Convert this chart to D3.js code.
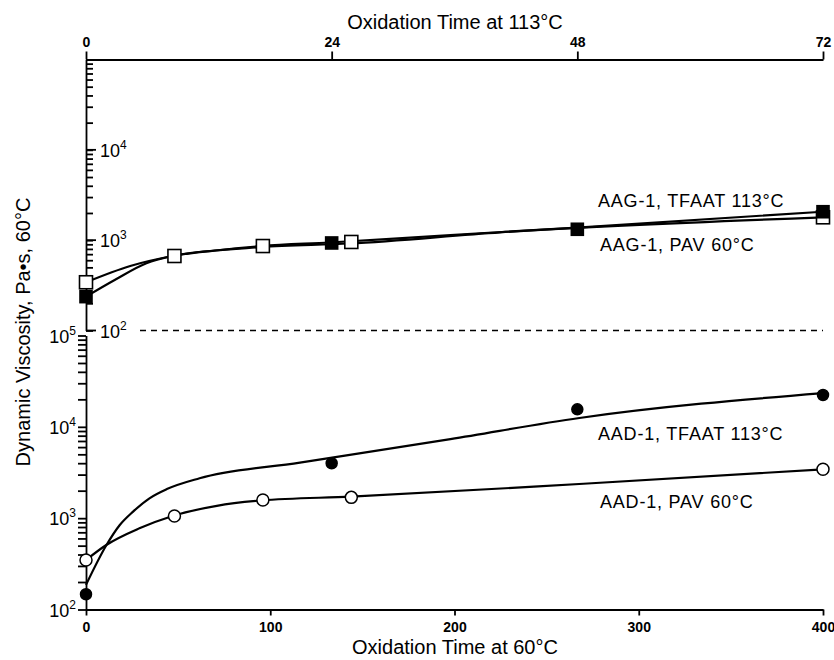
<!DOCTYPE html>
<html lang="en">
<head>
<meta charset="UTF-8">
<title>Dynamic Viscosity vs Oxidation Time</title>
<script src="https://d3js.org/d3.v7.min.js"></script>
<style>
    body { margin: 0; background: #ffffff; }
    svg { display: block; font-family: "Liberation Sans", Arial, sans-serif; }
    .axis path, .axis line { stroke: #000; stroke-width: 1.8; }
    .axis text { font-size: 14px; font-weight: bold; fill: #000; font-family: "Liberation Sans", Arial, sans-serif; }
    .fit { fill: none; stroke: #000; stroke-width: 2.2; }
    .title { font-size: 20px; fill: #000; }
    .series-label { font-size: 18px; letter-spacing: 0.8px; fill: #000; }
    .pow { font-size: 18px; fill: #000; }
</style>
</head>
<body>
<svg width="834" height="660"></svg>
<script>
// ---- data ----
const topTicks = [0, 24, 48, 72];            // oxidation hours at 113C
const bottomTicks = [0, 100, 200, 300, 400]; // oxidation hours at 60C
const upperPowers = [2, 3, 4];
const lowerPowers = [2, 3, 4, 5];

// AAG-1 (upper panel)
const aagTfaatHours = [0, 24, 48, 72];
const aagTfaatVisc = [237, 931, 1320, 2065];
const aagPavHours = [0, 48, 96, 144, 400];
const aagPavVisc = [342, 668, 861, 955, 1791];

// AAD-1 (lower panel)
const aadTfaatHours = [0, 24, 48, 72];
const aadTfaatVisc = [147, 3990, 15560, 22330];
const aadPavHours = [0, 48, 96, 144, 400];
const aadPavVisc = [348, 1056, 1582, 1690, 3427];

// fitted curves
const aagTfaatFitHours = [0, 2.8, 5.9, 8.4, 13.1, 17.2, 23.8, 35.6, 48, 72];
const aagTfaatFitVisc = [237, 362, 555, 668, 778, 861, 942, 1140, 1380, 2065];
const aagPavFitHours = [0, 24, 47, 95, 143, 225, 400];
const aagPavFitVisc = [342, 518, 668, 839, 918, 1222, 1791];
const aadTfaatFitHours = [0, 2.0, 3.3, 4.6, 6.2, 7.9, 11.1, 20.9, 35.6, 48.2, 72];
const aadTfaatFitVisc = [186, 508, 842, 1180, 1650, 2080, 2735, 4053, 7330, 12500, 23400];
const aadPavFitHours = [0, 11, 29, 47, 71, 95, 144, 270, 400];
const aadPavFitVisc = [348, 508, 774, 1056, 1365, 1560, 1720, 2380, 3427];

const zip = (xs, ys) => xs.map((x, i) => ({ x: x, y: ys[i] }));

// ---- scales ----
const svg = d3.select("svg");
const xTop = d3.scaleLinear().domain([0, 72]).range([86, 823]);
const xBottom = d3.scaleLinear().domain([0, 400]).range([86, 823]);
const yUp = d3.scaleLog().domain([100, 1e5]).range([330.5, 59.5]);
const yLo = d3.scaleLog().domain([100, 1e5]).range([609.5, 335.5]);

// ---- axes ----
svg.append("g")
   .attr("class", "axis")
   .attr("transform", `translate(0,${yUp.range()[1]})`)
   .call(d3.axisTop(xTop).tickValues(topTicks).tickSize(8).tickSizeOuter(0).tickPadding(5));

svg.append("g")
   .attr("class", "axis")
   .attr("transform", `translate(0,${yLo.range()[0]})`)
   .call(d3.axisBottom(xBottom).tickValues(bottomTicks).tickSize(6).tickSizeOuter(0).tickPadding(7));

const upAxis = svg.append("g")
   .attr("class", "axis")
   .attr("transform", `translate(${xTop.range()[0]},0)`)
   .call(d3.axisRight(yUp).tickValues(yUp.ticks()).tickSize(7).tickSizeOuter(0).tickFormat(""));

svg.append("g")
   .attr("class", "axis")
   .attr("transform", `translate(${xBottom.range()[0]},0)`)
   .call(d3.axisLeft(yLo).tickValues(yLo.ticks()).tickSize(8).tickSizeOuter(0).tickFormat(""));

// longer major ticks on the upper axis
upAxis.selectAll(".major")
   .data(upperPowers)
   .enter()
   .append("line")
   .attr("x1", 0).attr("x2", 10)
   .attr("y1", d => yUp(Math.pow(10, d)))
   .attr("y2", d => yUp(Math.pow(10, d)));

// power-of-ten labels
function powLabel(g, x, y, exp, anchor) {
    const t = g.append("text")
       .attr("class", "pow")
       .attr("x", x)
       .attr("y", y + 7)
       .attr("text-anchor", anchor);
    t.append("tspan").text("10");
    t.append("tspan").attr("dy", -8).style("font-size", "12px").text(exp);
}
upperPowers.forEach(p => powLabel(svg, 100, yUp(Math.pow(10, p)), p, "start"));
lowerPowers.forEach(p => powLabel(svg, 76, yLo(Math.pow(10, p)), p, "end"));

// dashed separator
svg.append("line")
   .attr("x1", 140).attr("x2", 823)
   .attr("y1", yUp(100)).attr("y2", yUp(100))
   .attr("stroke", "#000")
   .attr("stroke-width", 1.4)
   .attr("stroke-dasharray", "6,5");

// ---- fitted curves ----
function curve(pts, xs, ys) {
    svg.append("path")
       .datum(pts)
       .attr("class", "fit")
       .attr("d", d3.line().x(d => xs(d.x)).y(d => ys(d.y)).curve(d3.curveMonotoneX));
}
curve(zip(aagPavFitHours, aagPavFitVisc), xBottom, yUp);
curve(zip(aagTfaatFitHours, aagTfaatFitVisc), xTop, yUp);
curve(zip(aadPavFitHours, aadPavFitVisc), xBottom, yLo);
curve(zip(aadTfaatFitHours, aadTfaatFitVisc), xTop, yLo);

// ---- markers ----
function squares(pts, xs, ys, filled) {
    const s = filled ? 12 : 13;
    svg.append("g").selectAll("rect")
       .data(pts)
       .enter()
       .append("rect")
       .attr("x", d => xs(d.x) - s / 2)
       .attr("y", d => ys(d.y) - s / 2)
       .attr("width", s)
       .attr("height", s)
       .attr("fill", filled ? "#000" : "#fff")
       .attr("stroke", "#000")
       .attr("stroke-width", 1.6);
}
function circles(pts, xs, ys, filled) {
    svg.append("g").selectAll("circle")
       .data(pts)
       .enter()
       .append("circle")
       .attr("cx", d => xs(d.x))
       .attr("cy", d => ys(d.y))
       .attr("r", filled ? 5.5 : 6)
       .attr("fill", filled ? "#000" : "#fff")
       .attr("stroke", "#000")
       .attr("stroke-width", 1.5);
}
squares(zip(aagPavHours, aagPavVisc), xBottom, yUp, false);
squares(zip(aagTfaatHours, aagTfaatVisc), xTop, yUp, true);
circles(zip(aadPavHours, aadPavVisc), xBottom, yLo, false);
circles(zip(aadTfaatHours, aadTfaatVisc), xTop, yLo, true);

// ---- series labels ----
const labels = [
    { text: "AAG-1, TFAAT 113°C", x: 598, y: 207 },
    { text: "AAG-1, PAV 60°C", x: 600, y: 251 },
    { text: "AAD-1, TFAAT 113°C", x: 598, y: 440 },
    { text: "AAD-1, PAV 60°C", x: 600, y: 508 }
];
svg.selectAll(".series-label")
   .data(labels)
   .enter()
   .append("text")
   .attr("class", "series-label")
   .attr("x", d => d.x)
   .attr("y", d => d.y)
   .text(d => d.text);

// ---- titles ----
svg.append("text")
   .attr("class", "title")
   .attr("x", 455).attr("y", 29)
   .attr("text-anchor", "middle")
   .text("Oxidation Time at 113°C");

svg.append("text")
   .attr("class", "title")
   .attr("x", 455).attr("y", 654)
   .attr("text-anchor", "middle")
   .text("Oxidation Time at 60°C");

svg.append("text")
   .attr("class", "title")
   .attr("transform", "translate(30,332) rotate(-90)")
   .attr("text-anchor", "middle")
   .text("Dynamic Viscosity, Pa•s, 60°C");
</script>
</body>
</html>
